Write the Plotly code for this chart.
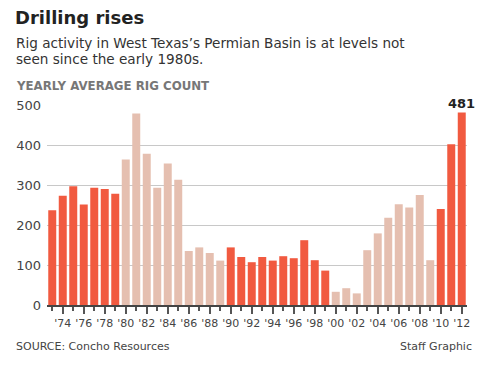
import plotly.graph_objects as go

years = list(range(1973, 2013))
rig_counts = [237, 273, 297, 251, 293, 290, 278,
              364, 479, 378, 293, 354, 313, 135, 144, 130, 111,
              144, 120, 107, 120, 111, 122, 117, 162, 112, 86,
              33, 42, 29, 137, 179, 218, 252, 244, 275, 112,
              240, 402, 481]
# shading group per year: "dark" or "light"
shade = (["dark"] * 7 + ["light"] * 10 + ["dark"] * 10 + ["light"] * 10 + ["dark"] * 3)
tick_years = list(range(1974, 2013, 2))
tick_labels = ["'" + str(y)[2:] for y in tick_years]
minor_years = list(range(1973, 2013, 2))
y_ticks = [0, 100, 200, 300, 400, 500]

DARK = "#F15A40"
LIGHT = "#E5BFB0"
colors = [DARK if s == "dark" else LIGHT for s in shade]

FONT = "DejaVu Sans"
L, T, B_PX = 47, 105, 305
PW, PH = 420, 200


def px_x(x):
    return (x - L) / PW


def px_y(y):
    return (B_PX - y) / PH


fig = go.Figure()
fig.add_trace(go.Bar(x=years, y=rig_counts, marker=dict(color=colors, line=dict(width=0)),
                     hoverinfo="x+y"))

fig.update_layout(
    width=488, height=366,
    margin=dict(l=L, r=488 - L - PW, t=T, b=366 - B_PX),
    paper_bgcolor="white", plot_bgcolor="white",
    bargap=0.24, showlegend=False,
    font=dict(family=FONT, color="#444"),
    xaxis=dict(range=[1972.5, 2012.5], tickmode="array", tickvals=tick_years, ticktext=tick_labels,
               ticks="outside", ticklen=7, tickcolor="#555", tickwidth=1.5,
               showline=True, linecolor="#444", linewidth=1.5, showgrid=False,
               tickfont=dict(size=11, color="#444", family=FONT),
               minor=dict(tickvals=minor_years, ticks="outside", ticklen=4, tickcolor="#555", tickwidth=1.5),
               fixedrange=True, automargin=False),
    yaxis=dict(range=[0, 500], tickvals=y_ticks, showgrid=True, gridcolor="#C8C8C8", gridwidth=1,
               zeroline=False, ticks="", tickfont=dict(size=13, color="#444", family=FONT),
               ticklabelstandoff=5, fixedrange=True, automargin=False),
)

fig.add_annotation(x=years[-1], y=rig_counts[-1], text="<b>481</b>", showarrow=False,
                   yanchor="bottom", yshift=0, font=dict(size=13, color="#222", family=FONT))


def label(text, xpx, ypx, size, color, anchor="left", bold=False):
    fig.add_annotation(xref="paper", yref="paper", x=px_x(xpx), y=px_y(ypx), xanchor=anchor,
                       yanchor="middle", text=("<b>%s</b>" % text) if bold else text, showarrow=False,
                       borderpad=0, font=dict(size=size, color=color, family=FONT))


label("Drilling rises", 14, 18, 18, "#222", bold=True)
label("Rig activity in West Texas’s Permian Basin is at levels not", 15, 43.5, 13.6, "#333")
label("seen since the early 1980s.", 15, 59.5, 13.6, "#333")
label("YEARLY AVERAGE RIG COUNT", 15, 86, 11.8, "#777", bold=True)
label("SOURCE: Concho Resources", 15, 346, 11, "#444")
label("Staff Graphic", 473, 346, 11, "#444", anchor="right")

fig.write_html("out.html", config={"displayModeBar": False},
               post_script="document.body.style.margin='0';document.body.style.padding='0';")
